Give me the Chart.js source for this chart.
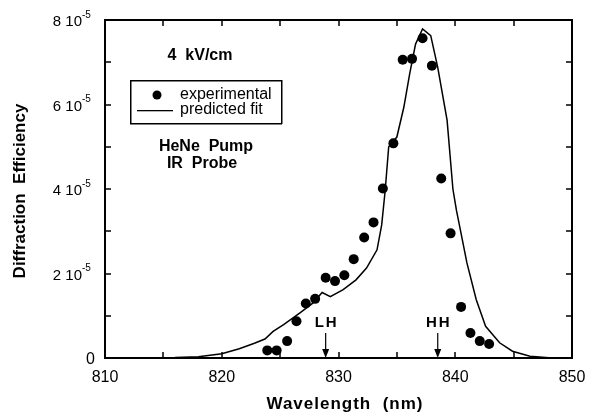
<!DOCTYPE html>
<html>
<head>
<meta charset="utf-8">
<script src="https://cdn.jsdelivr.net/npm/chart.js@4"></script>
<style>
  body { margin: 0; background: #fff; }
</style>
</head>
<body>
<canvas id="chart" width="598" height="413"></canvas>
<script>
// ── Data (efficiency in units of 10^-5) ──
const expWavelength = [823.9, 824.7, 825.6, 826.4, 827.2, 828.0, 828.9, 829.7, 830.5, 831.3, 832.2, 833.0,
                       833.8, 834.7, 835.5, 836.3, 837.2, 838.0, 838.8, 839.6, 840.5, 841.3, 842.1, 842.9];
const expEfficiency = [0.18, 0.18, 0.40, 0.87, 1.29, 1.40, 1.90, 1.82, 1.96, 2.34, 2.85, 3.21,
                       4.01, 5.08, 7.06, 7.08, 7.57, 6.92, 4.25, 2.95, 1.21, 0.59, 0.40, 0.33];

const fitWavelength = [812, 816, 818, 820, 821.5, 822.8, 823.7, 824.4, 825.3, 826.7, 827.8, 828.6, 829.3,
                       830.4, 831.5, 832.4, 833.3, 833.7, 834.0, 834.3, 835.0, 835.6, 836.1, 836.6, 837.2,
                       837.9, 838.5, 839.3, 839.8, 840.1, 841.0, 841.8, 842.6, 843.8, 844.9, 846.4, 848.3, 850];
const fitEfficiency = [0, 0.01, 0.03, 0.10, 0.22, 0.35, 0.45, 0.63, 0.79, 1.07, 1.30, 1.55, 1.45,
                       1.62, 1.85, 2.13, 2.56, 3.15, 3.97, 5.00, 5.23, 5.94, 6.73, 7.43, 7.79,
                       7.63, 6.88, 5.63, 4.00, 3.50, 2.25, 1.38, 0.75, 0.36, 0.16, 0.04, 0, 0];

const xTicks = [810, 815, 820, 825, 830, 835, 840, 845, 850];
const xLabels = [810, 820, 830, 840, 850];
const yTicks = [0, 1, 2, 3, 4, 5, 6, 7, 8];
const yLabels = [0, 2, 4, 6, 8];

const markers = [{ label: 'LH', x: 828.9 }, { label: 'HH', x: 838.5 }];

const FONT = '"Liberation Sans", Arial, sans-serif';

// ── Frame, ticks, labels and annotations ──
const decor = {
    id: 'decor',
    afterDraw(chart) {
        const { ctx, chartArea: a } = chart;
        const xs = chart.scales.x, ys = chart.scales.y;
        ctx.save();
        ctx.fillStyle = '#000000';
        const L = Math.round(a.left), R = Math.round(a.right);
        const T = Math.round(a.top), B = Math.round(a.bottom);

        // frame
        ctx.fillRect(L - 1, T - 1, R - L + 2, 2);
        ctx.fillRect(L - 1, B - 1, R - L + 2, 2);
        ctx.fillRect(L - 1, T - 1, 2, B - T + 2);
        ctx.fillRect(R - 1, T - 1, 2, B - T + 2);

        // inward ticks on all four sides
        for (const v of xTicks) {
            const px = Math.round(xs.getPixelForValue(v));
            ctx.fillRect(px - 0.75, B - 6, 1.5, 6);
            ctx.fillRect(px - 0.75, T, 1.5, 6);
        }
        for (const v of yTicks) {
            const py = Math.round(ys.getPixelForValue(v));
            ctx.fillRect(L, py - 0.75, 6, 1.5);
            ctx.fillRect(R - 6, py - 0.75, 6, 1.5);
        }

        // x tick labels
        ctx.font = `16px ${FONT}`;
        ctx.textAlign = 'center';
        ctx.textBaseline = 'middle';
        xLabels.forEach(v => ctx.fillText(String(v), xs.getPixelForValue(v), 378));

        // y tick labels with exponent
        yLabels.forEach(v => {
            const py = ys.getPixelForValue(v) + 2;
            if (v === 0) {
                ctx.font = `16px ${FONT}`;
                ctx.textAlign = 'right';
                ctx.fillText('0', 95, py);
                return;
            }
            ctx.font = `15px ${FONT}`;
            ctx.textAlign = 'right';
            ctx.fillText(`${v} 10`, 82, py);
            ctx.font = `10px ${FONT}`;
            ctx.textAlign = 'left';
            ctx.fillText('-5', 82, py - 7);
        });

        // axis titles
        ctx.font = `bold 17px ${FONT}`;
        ctx.textAlign = 'center';
        ctx.letterSpacing = '1px';
        ctx.fillText('Wavelength  (nm)', 345, 404);
        ctx.letterSpacing = '0px';
        ctx.save();
        ctx.translate(20, 191);
        ctx.rotate(-Math.PI / 2);
        ctx.fillText('Diffraction  Efficiency', 0, 0);
        ctx.restore();

        // text annotations
        ctx.font = `bold 16px ${FONT}`;
        ctx.fillText('4  kV/cm', 200, 56);
        ctx.fillText('HeNe  Pump', 206, 147);
        ctx.fillText('IR  Probe', 202, 164);

        // legend box
        ctx.fillRect(130, 80, 152, 1.5);
        ctx.fillRect(130, 123, 152, 1.5);
        ctx.fillRect(130, 80, 1.5, 44);
        ctx.fillRect(281, 80, 1.5, 44);
        ctx.beginPath();
        ctx.arc(157, 95, 4.5, 0, Math.PI * 2);
        ctx.fill();
        ctx.fillRect(137, 110, 36, 1.3);
        ctx.font = `16px ${FONT}`;
        ctx.textAlign = 'left';
        ctx.fillText('experimental', 180, 95);
        ctx.fillText('predicted fit', 180, 110);

        // LH / HH arrows
        markers.forEach(m => {
            const px = xs.getPixelForValue(m.x);
            ctx.font = `bold 15px ${FONT}`;
            ctx.textAlign = 'center';
            ctx.letterSpacing = '2px';
            ctx.fillText(m.label, px + 1, 323);
            ctx.letterSpacing = '0px';
            ctx.fillRect(px - 0.6, 333, 1.2, B - 337);
            ctx.beginPath();
            ctx.moveTo(px - 3.5, B - 9);
            ctx.lineTo(px, B);
            ctx.lineTo(px + 3.5, B - 9);
            ctx.closePath();
            ctx.fill();
        });
        ctx.restore();
    }
};

new Chart(document.getElementById('chart'), {
    type: 'scatter',
    data: {
        datasets: [{
            label: 'experimental',
            data: expWavelength.map((x, i) => ({ x, y: expEfficiency[i] })),
            backgroundColor: '#000',
            borderColor: '#000',
            pointRadius: 5,
            pointBorderWidth: 0,
            showLine: false
        }, {
            label: 'predicted fit',
            data: fitWavelength.map((x, i) => ({ x, y: fitEfficiency[i] })),
            borderColor: '#000',
            borderWidth: 1.5,
            pointRadius: 0,
            showLine: true,
            tension: 0
        }]
    },
    options: {
        responsive: false,
        animation: false,
        devicePixelRatio: 1,
        layout: { padding: { top: 20, right: 26, left: 0, bottom: 0 } },
        plugins: { legend: { display: false }, tooltip: { enabled: false } },
        scales: {
            x: {
                type: 'linear', min: 810, max: 850,
                grid: { display: false }, border: { display: false },
                ticks: { display: false },
                afterFit: s => { s.height = 55; }
            },
            y: {
                min: 0, max: 8,
                grid: { display: false }, border: { display: false },
                ticks: { display: false },
                afterFit: s => { s.width = 105; }
            }
        }
    },
    plugins: [decor]
});
</script>
</body>
</html>
